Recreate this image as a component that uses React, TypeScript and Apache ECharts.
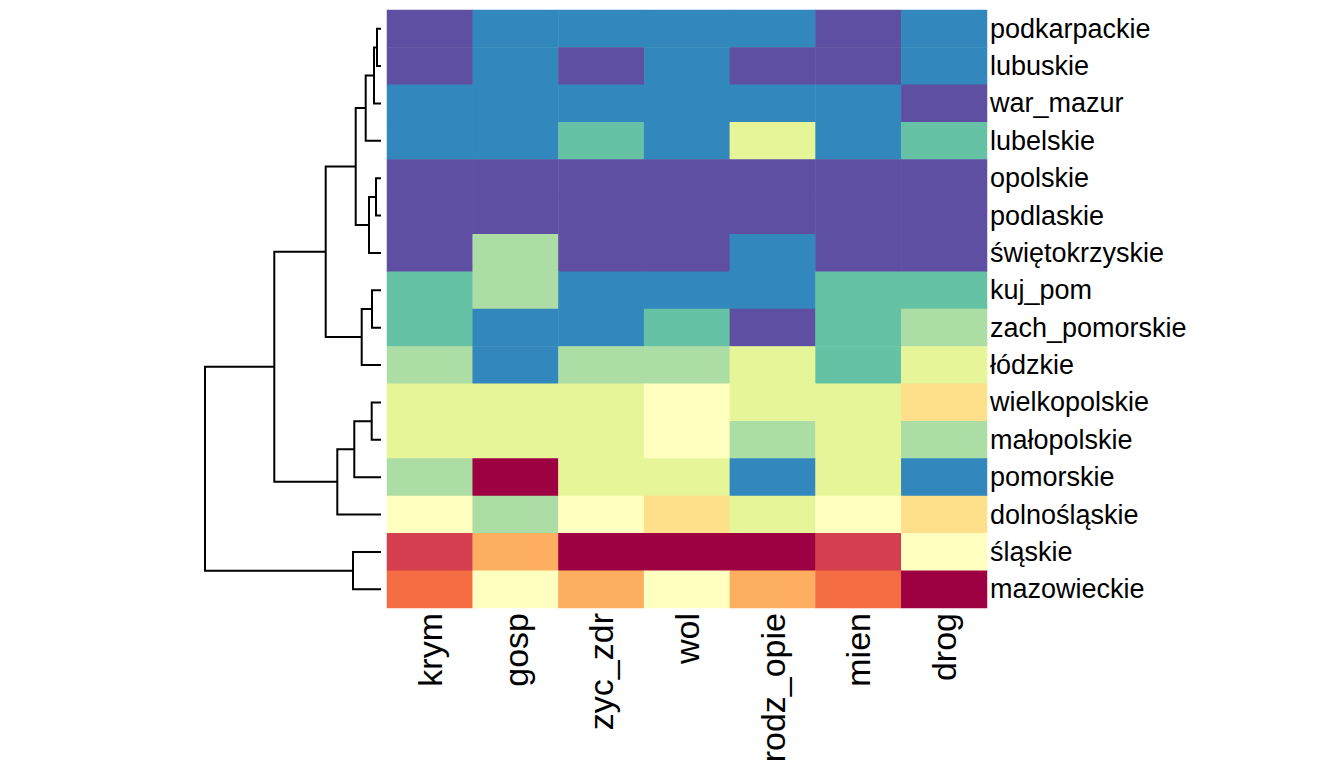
import React, { useEffect, useRef } from "react";
import * as echarts from "echarts";

// Column (variable) labels
const columns = ["krym", "gosp", "zyc_zdr", "wol", "rodz_opie", "mien", "drog"];
// Row (region) labels in dendrogram order, top to bottom
const rows = [
  "podkarpackie", "lubuskie", "war_mazur", "lubelskie", "opolskie", "podlaskie",
  "świętokrzyskie", "kuj_pom", "zach_pomorskie", "łódzkie", "wielkopolskie",
  "małopolskie", "pomorskie", "dolnośląskie", "śląskie", "mazowieckie",
];
// Colour level (1 = lowest, 11 = highest) of each cell, per row
const levels: number[][] = [
  [1, 2, 2, 2, 2, 1, 2],
  [1, 2, 1, 2, 1, 1, 2],
  [2, 2, 2, 2, 2, 2, 1],
  [2, 2, 3, 2, 5, 2, 3],
  [1, 1, 1, 1, 1, 1, 1],
  [1, 1, 1, 1, 1, 1, 1],
  [1, 4, 1, 1, 2, 1, 1],
  [3, 4, 2, 2, 2, 3, 3],
  [3, 2, 2, 3, 1, 3, 4],
  [4, 2, 4, 4, 5, 3, 5],
  [5, 5, 5, 6, 5, 5, 7],
  [5, 5, 5, 6, 4, 5, 4],
  [4, 11, 5, 5, 2, 5, 2],
  [6, 4, 6, 7, 5, 6, 7],
  [10, 8, 11, 11, 11, 10, 6],
  [9, 6, 8, 6, 8, 9, 11],
];
// Spectral palette, level 1..11
const palette = [
  "#5E4FA2", "#3288BD", "#66C2A5", "#ABDDA4", "#E6F598", "#FFFFBF",
  "#FEE08B", "#FDAE61", "#F46D43", "#D53E4F", "#9E0142",
];
// Dendrogram merges: [left node, right node, height]; leaves are row indices 0..15,
// internal nodes are referenced as 16 + merge index
const merges: [number, number, number][] = [
  [0, 1, 0.4],      // 16
  [16, 2, 0.7],     // 17
  [17, 3, 1.53],    // 18
  [4, 5, 0.5],      // 19
  [19, 6, 1.2],     // 20
  [18, 20, 2.53],   // 21
  [7, 8, 0.9],      // 22
  [22, 9, 1.93],    // 23
  [21, 23, 5.53],   // 24
  [10, 11, 0.93],   // 25
  [25, 12, 2.67],   // 26
  [26, 13, 4.37],   // 27
  [24, 27, 10.67],  // 28
  [14, 15, 2.8],    // 29
  [28, 29, 17.6],   // 30
];

const FONT = "'Liberation Sans', Arial, Helvetica, sans-serif";

export default function App() {
  const ref = useRef<HTMLDivElement>(null);
  useEffect(() => {
    if (!ref.current) return;
    const chart = echarts.init(ref.current, null, { renderer: "svg" });

    const cells: number[][] = [];
    levels.forEach((row, r) => row.forEach((v, c) => cells.push([c, r, v])));

    // dendrogram layout
    const posY: number[] = rows.map((_, i) => i + 0.5);
    const posH: number[] = rows.map(() => 0);
    const segs: { coords: number[][] }[] = [];
    merges.forEach(([a, b, h]) => {
      const ya = posY[a], yb = posY[b];
      segs.push({ coords: [[posH[a], ya], [h, ya], [h, yb], [posH[b], yb]] });
      posY.push((ya + yb) / 2);
      posH.push(h);
    });
    const maxH = merges[merges.length - 1][2];

    chart.setOption({
      animation: false,
      backgroundColor: "#ffffff",
      grid: [
        { left: 387, top: 10, width: 600, height: 598, containLabel: false },
        { left: 205, top: 10, width: 176, height: 598, containLabel: false },
      ],
      xAxis: [
        {
          type: "category",
          data: columns,
          gridIndex: 0,
          position: "bottom",
          axisLine: { show: false },
          axisTick: { show: false },
          splitLine: { show: false },
          axisLabel: {
            rotate: 90,
            margin: 5,
            fontSize: 34,
            color: "#000",
            fontFamily: FONT,
            interval: 0,
          },
        },
        {
          type: "value",
          gridIndex: 1,
          min: 0,
          max: maxH,
          inverse: true,
          show: false,
        },
      ],
      yAxis: [
        {
          type: "category",
          data: rows,
          gridIndex: 0,
          inverse: true,
          position: "right",
          axisLine: { show: false },
          axisTick: { show: false },
          splitLine: { show: false },
          axisLabel: {
            margin: 3,
            fontSize: 27,
            color: "#000",
            fontFamily: FONT,
            align: "left",
            interval: 0,
          },
        },
        {
          type: "value",
          gridIndex: 1,
          min: 0,
          max: rows.length,
          inverse: true,
          show: false,
        },
      ],
      visualMap: {
        type: "piecewise",
        show: false,
        seriesIndex: 0,
        dimension: 2,
        pieces: palette.map((c, i) => ({ value: i + 1, color: c })),
      },
      series: [
        {
          type: "heatmap",
          xAxisIndex: 0,
          yAxisIndex: 0,
          data: cells,
          itemStyle: { borderWidth: 0 },
          emphasis: { disabled: true },
        },
        {
          type: "lines",
          coordinateSystem: "cartesian2d",
          xAxisIndex: 1,
          yAxisIndex: 1,
          polyline: true,
          lineStyle: { color: "#000", width: 2, opacity: 1 },
          data: segs,
          silent: true,
        },
      ],
    });
    return () => chart.dispose();
  }, []);
  return (
    <div
      ref={ref}
      style={{ position: "fixed", left: 0, top: 0, width: 1344, height: 768 }}
    />
  );
}
